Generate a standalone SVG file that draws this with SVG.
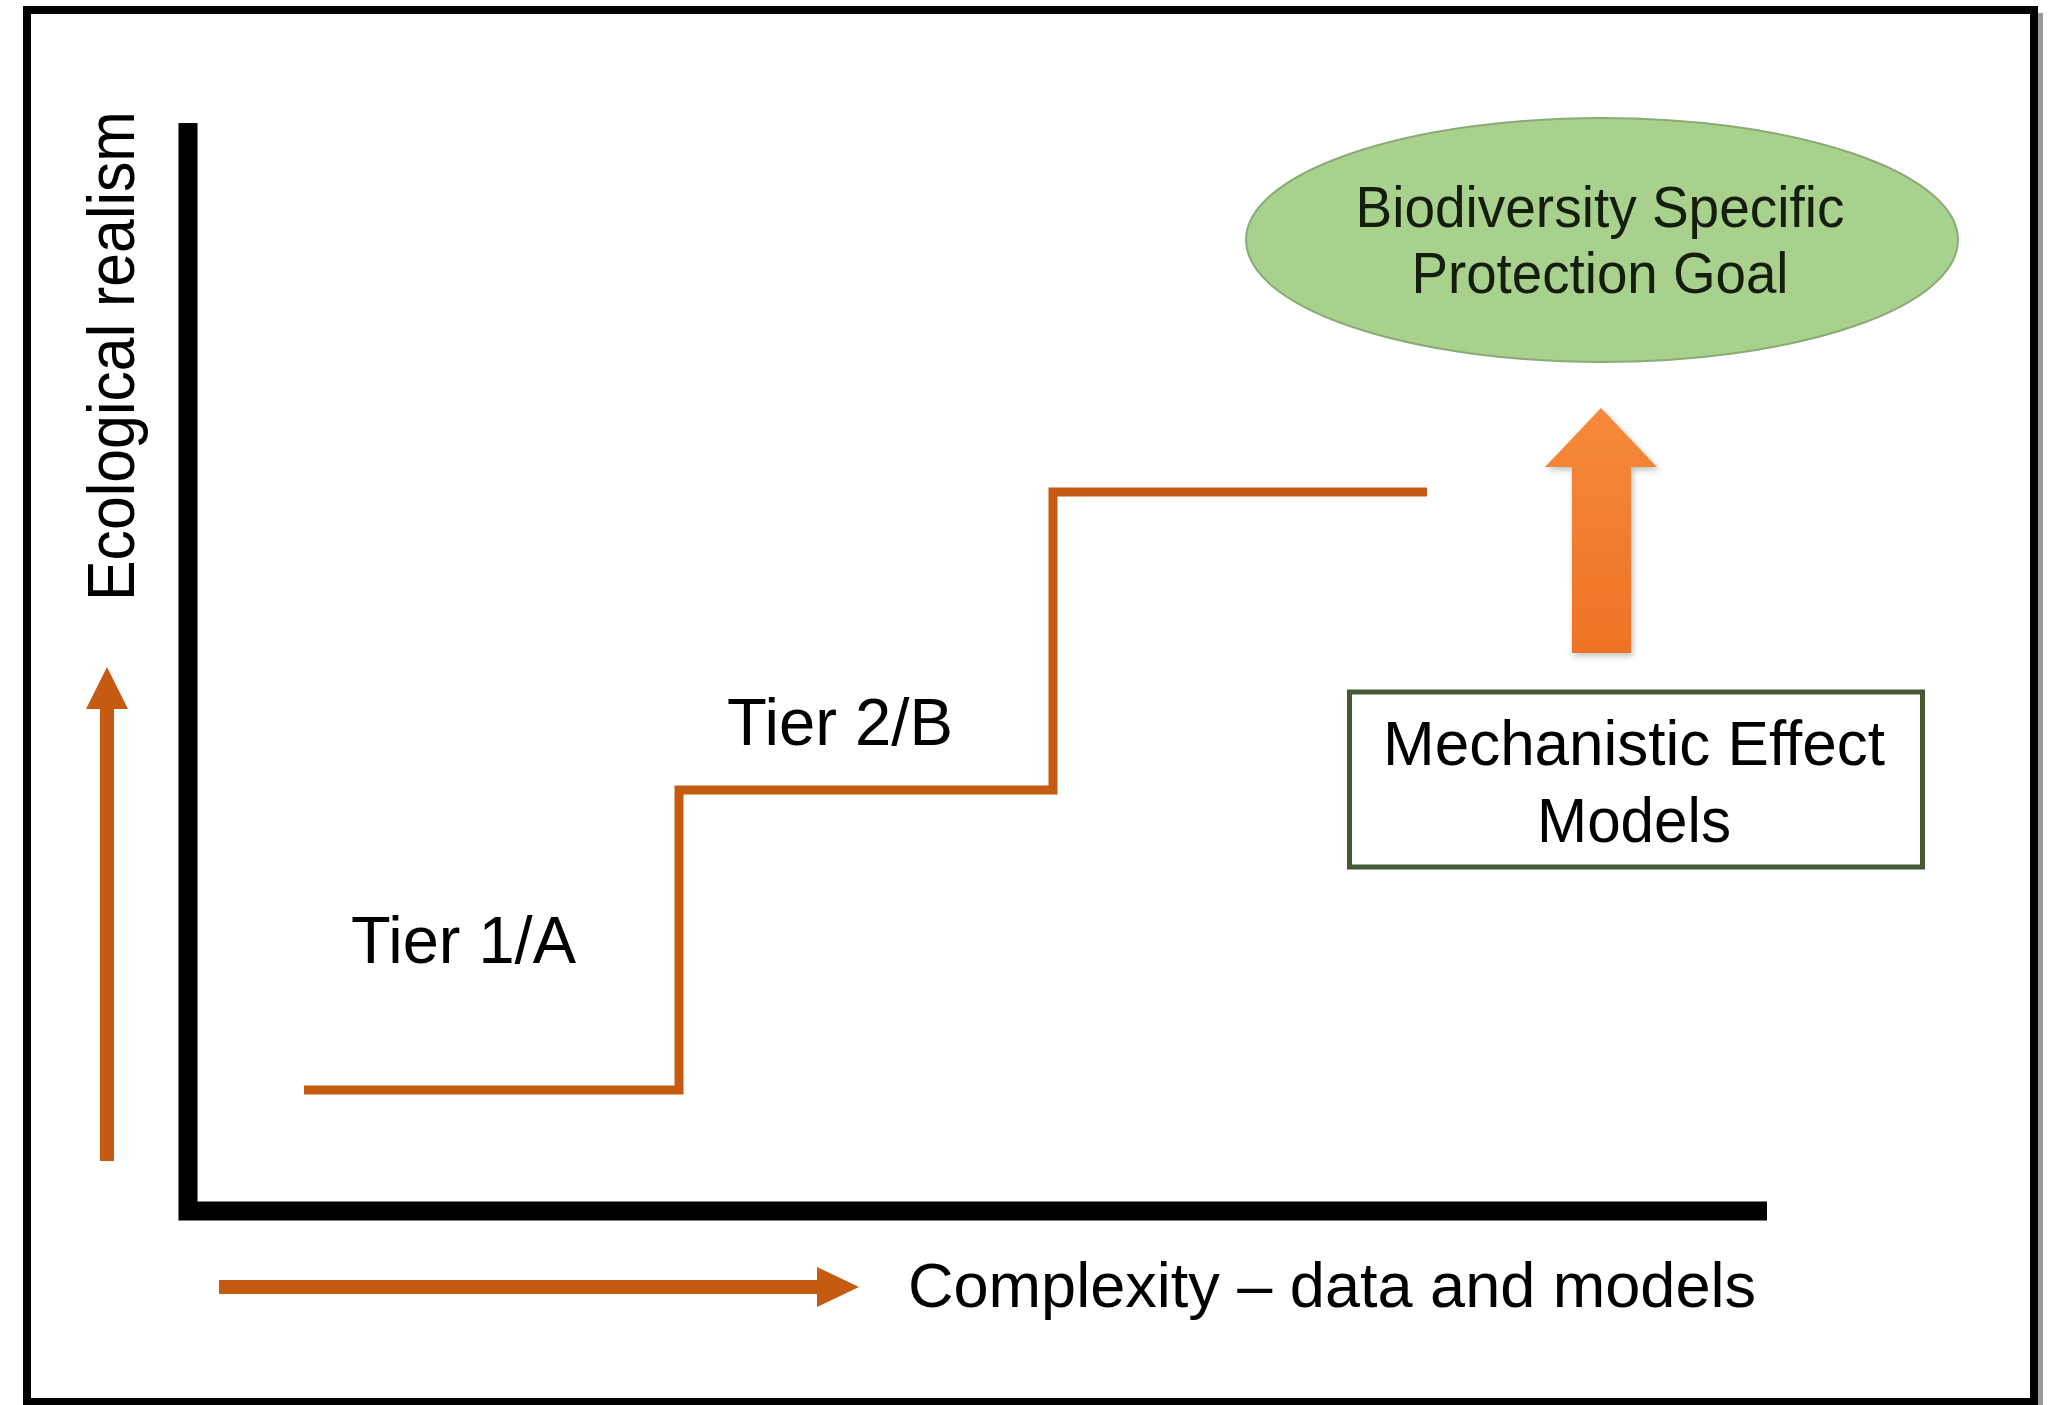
<svg xmlns="http://www.w3.org/2000/svg" width="2056" height="1405" viewBox="0 0 2056 1405">
<style>
.lbl{font-family:"Liberation Sans",Arial,sans-serif;fill:#000;}
.orange{fill:#C55A11;}
.stair{fill:none;stroke:#C55A11;stroke-width:9;stroke-linejoin:miter;}
</style>
<defs>
<linearGradient id="bigArrow" x1="0" y1="0" x2="0" y2="1">
<stop offset="0" stop-color="#F58A3A"/>
<stop offset="1" stop-color="#F07226"/>
</linearGradient>
<filter id="soft" x="-20%" y="-20%" width="140%" height="140%">
<feGaussianBlur in="SourceAlpha" stdDeviation="3"/>
<feOffset dx="2" dy="3" result="b"/>
<feComponentTransfer><feFuncA type="linear" slope="0.25"/></feComponentTransfer>
<feMerge><feMergeNode/><feMergeNode in="SourceGraphic"/></feMerge>
</filter>
</defs>
<rect width="2056" height="1405" fill="#fff"/>
<g id="frame">
<rect x="33" y="16" width="2007" height="1392" fill="none" stroke="#9a9a9a" stroke-width="6"/>
<rect x="27" y="10" width="2007" height="1392" fill="#fff" stroke="#000" stroke-width="8"/>
</g>
<g id="axes">
<polyline points="188,123 188,1211 1767,1211" fill="none" stroke="#000" stroke-width="19" stroke-linejoin="miter"/>
</g>
<g id="axis-arrows">
<rect class="orange" x="100" y="705" width="14" height="456"/>
<polygon class="orange" points="86,709 107,667 128,709"/>
<rect class="orange" x="219" y="1280" width="600" height="14"/>
<polygon class="orange" points="817,1267 859,1287 817,1307"/>
</g>
<g id="labels">
<text class="lbl" x="134" y="601" font-size="66" textLength="490" lengthAdjust="spacingAndGlyphs" transform="rotate(-90 134 601)">Ecological realism</text>
<text class="lbl" x="908" y="1307" font-size="63" textLength="848" lengthAdjust="spacingAndGlyphs">Complexity – data and models</text>
</g>
<g id="connectors">
<polyline class="stair" points="304,1090 679,1090 679,790 1053,790 1053,492 1427,492"/>
</g>
<g id="tier1">
<text class="lbl" x="351" y="963" font-size="66" textLength="225" lengthAdjust="spacingAndGlyphs">Tier 1/A</text>
</g>
<g id="tier2">
<text class="lbl" x="727" y="745" font-size="66" textLength="226" lengthAdjust="spacingAndGlyphs">Tier 2/B</text>
</g>
<g id="goal">
<ellipse cx="1602" cy="240" rx="356" ry="122" fill="#A9D18E" stroke="#8BAA76" stroke-width="2"/>
<text class="lbl" x="1600" y="227" font-size="57" text-anchor="middle" textLength="489" lengthAdjust="spacingAndGlyphs" fill="#141d0e" style="fill:#141d0e">Biodiversity Specific</text>
<text class="lbl" x="1600" y="293" font-size="57" text-anchor="middle" textLength="377" lengthAdjust="spacingAndGlyphs" style="fill:#141d0e">Protection Goal</text>
</g>
<g id="up-arrow">
<polygon points="1572,653 1572,467 1545,467 1601,408 1657,467 1631,467 1631,653" fill="url(#bigArrow)" filter="url(#soft)"/>
</g>
<g id="models">
<rect x="1349.5" y="692" width="573" height="175" fill="#fff" stroke="#435A33" stroke-width="5"/>
<text class="lbl" x="1634" y="765" font-size="63" text-anchor="middle" textLength="502" lengthAdjust="spacingAndGlyphs">Mechanistic Effect</text>
<text class="lbl" x="1634" y="842" font-size="63" text-anchor="middle" textLength="194" lengthAdjust="spacingAndGlyphs">Models</text>
</g>
</svg>
